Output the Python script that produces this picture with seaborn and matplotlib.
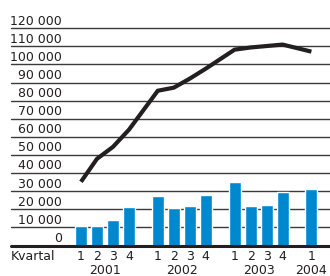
import matplotlib
matplotlib.use("Agg")
import matplotlib.pyplot as plt
import matplotlib.transforms as mtransforms
import seaborn as sns
import pandas as pd

# quarterly data 2001 - 2004
years = [2001, 2001, 2001, 2001, 2002, 2002, 2002, 2002,
         2003, 2003, 2003, 2003, 2004]
quarters = [1, 2, 3, 4, 1, 2, 3, 4, 1, 2, 3, 4, 1]
bar_values = [10800, 10800, 14100, 21300, 27400, 20800, 21900, 28000,
              35200, 21900, 22400, 29600, 31300]
line_values = [35200, 47900, 54500, 64000, 85500, 87200, 92200, 97700,
               108200, 109400, 110200, 111000, 107100]
y_ticks = [0, 10000, 20000, 30000, 40000, 50000, 60000,
           70000, 80000, 90000, 100000, 110000, 120000]
y_tick_labels = ["0", "10 000", "20 000", "30 000", "40 000", "50 000", "60 000",
                 "70 000", "80 000", "90 000", "100 000", "110 000", "120 000"]

sns.set_style("white")
plt.rcParams['font.family'] = ['DejaVu Sans']

text_col = '#231f20'
bar_col = '#0088cf'

# x position: quarter slot, with a wider gap between years
first_year = years[0]
df = pd.DataFrame({'year': years, 'quarter': quarters,
                   'bars': bar_values, 'line': line_values})
df['pos'] = (df['year'] - first_year) * 4.8 + (df['quarter'] - 1)

fig = plt.figure(figsize=(3.3, 2.76), dpi=100)
ax = fig.add_axes([0.0333, 0.1105, 0.9667, 0.787])

# grid lines
for v in y_ticks[1:]:
    ax.axhline(v, color='#3a3a3a', lw=1.0, zorder=0, clip_on=False)
ax.axhline(0, color=text_col, lw=2.2, zorder=4, clip_on=False)

sns.barplot(data=df, x='pos', y='bars', native_scale=True, width=0.75,
            color=bar_col, saturation=1, ax=ax, zorder=2)
sns.lineplot(data=df, x='pos', y='line', color=text_col, lw=3.0, ax=ax,
             zorder=3, solid_capstyle='butt', solid_joinstyle='miter')

ax.set_xlim(-4.375, 15.5625)
ax.set_ylim(0, 120000)
for s in ax.spines.values():
    s.set_visible(False)
ax.set_xticks([])
ax.set_yticks([])
ax.set_xlabel('')
ax.set_ylabel('')

# y labels sit just above their grid line
lab_tr = mtransforms.offset_copy(ax.transData, fig=fig, x=0, y=2.6, units='points')
for v, lab in zip(y_ticks, y_tick_labels):
    ax.text(-1.19, v, lab, transform=lab_tr, ha='right', va='baseline',
            fontsize=9, color=text_col)

# x labels
xtr = ax.get_xaxis_transform()
for p, q in zip(df['pos'], df['quarter']):
    ax.text(p, -0.066, str(q), transform=xtr, ha='center', va='baseline',
            fontsize=9, color=text_col)
for y, grp in df.groupby('year'):
    ax.text(grp['pos'].mean(), -0.132, str(y), transform=xtr, ha='center',
            va='baseline', fontsize=9, color=text_col)
ax.text(0, -0.066, 'Kvartal', transform=ax.transAxes, ha='left', va='baseline',
        fontsize=9, color=text_col)

fig.savefig('out.png', dpi=100)
